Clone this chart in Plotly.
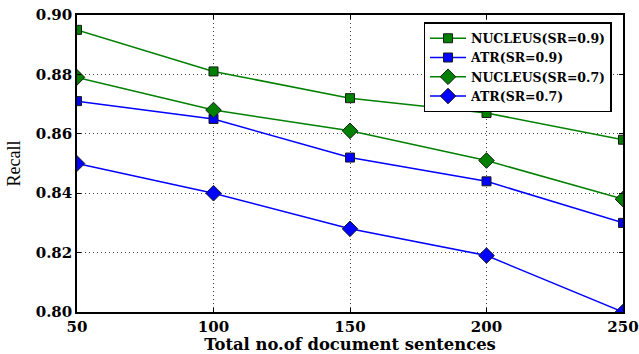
import plotly.graph_objects as go

sentences = [50, 100, 150, 200, 250]
nucleus_09 = [0.895, 0.881, 0.872, 0.867, 0.858]
atr_09 = [0.871, 0.865, 0.852, 0.844, 0.830]
nucleus_07 = [0.879, 0.868, 0.861, 0.851, 0.838]
atr_07 = [0.850, 0.840, 0.828, 0.819, 0.800]

series = [
    ("NUCLEUS(SR=0.9)", nucleus_09, "#008000", "square"),
    ("ATR(SR=0.9)", atr_09, "#0000FF", "square"),
    ("NUCLEUS(SR=0.7)", nucleus_07, "#008000", "diamond"),
    ("ATR(SR=0.7)", atr_07, "#0000FF", "diamond"),
]

fig = go.Figure()
for name, vals, color, sym in series:
    fig.add_trace(go.Scatter(
        x=sentences, y=vals, name=name, mode="lines+markers",
        line=dict(color=color, width=1.5),
        marker=dict(symbol=sym, size=9 if sym == "square" else 12, color=color,
                    line=dict(color="#1a1a1a", width=1)),
        cliponaxis=True,
    ))

bold_font = "DejaVu Serif, serif"
fig.update_layout(
    width=639, height=354,
    margin=dict(l=77, r=16, t=15, b=42, autoexpand=False),
    paper_bgcolor="white", plot_bgcolor="white",
    font=dict(family=bold_font, color="black"),
    showlegend=True,
    legend=dict(
        x=0.979, y=0.976, xanchor="right", yanchor="top",
        bordercolor="black", borderwidth=1.5, bgcolor="white",
        font=dict(size=12.5, family=bold_font, weight="bold"),
        tracegroupgap=0, itemwidth=36,
    ),
    xaxis=dict(
        range=[50, 250], tickvals=sentences, ticktext=[str(s) for s in sentences],
        showline=True, linecolor="black", linewidth=1.5, mirror="ticks",
        ticks="inside", ticklen=4, tickcolor="black",
        showgrid=True, gridcolor="#444444", griddash="1px,3px", gridwidth=1,
        zeroline=False, automargin=False,
        tickfont=dict(size=15, weight="bold"),
        title=dict(text="Total no.of document sentences", font=dict(size=16.4, weight="bold"), standoff=7),
    ),
    yaxis=dict(
        range=[0.80, 0.90], tickvals=[0.80, 0.82, 0.84, 0.86, 0.88, 0.90],
        ticktext=["0.80", "0.82", "0.84", "0.86", "0.88", "0.90"],
        showline=True, linecolor="black", linewidth=1.5, mirror="ticks",
        ticks="inside", ticklen=4, tickcolor="black",
        showgrid=True, gridcolor="#444444", griddash="1px,3px", gridwidth=1,
        zeroline=False, automargin=False,
        tickfont=dict(size=15, weight="bold"),
        title=dict(text="Recall", font=dict(size=18, family="Liberation Serif, serif"), standoff=10),
    ),
)
fig.write_html("out.html", config={"displayModeBar": False},
               post_script="document.body.style.margin='0';")
